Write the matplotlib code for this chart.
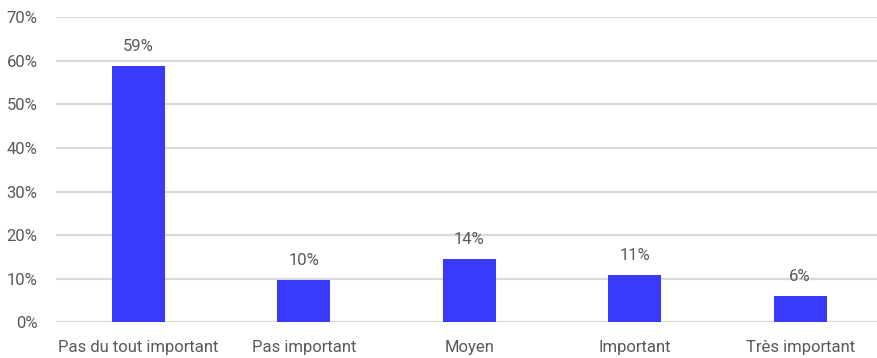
import matplotlib.pyplot as plt
from matplotlib.ticker import PercentFormatter

plt.rcParams['font.family'] = ['Roboto', 'DejaVu Sans']

categories = ["Pas du tout important", "Pas important", "Moyen", "Important", "Très important"]
shares = [0.588, 0.097, 0.145, 0.108, 0.061]

fig = plt.figure(figsize=(8.77, 3.58), dpi=100)
ax = fig.add_axes([0.0636, 0.0997, 0.9364, 0.852])

x = range(len(categories))
bars = ax.bar(x, shares, width=0.32, color="#3a3aff", zorder=3)

for b, v in zip(bars, shares):
    ax.text(b.get_x() + b.get_width() / 2, v + 0.045, f"{v:.0%}",
            ha="center", va="center", fontsize=12, color="#595959")

ax.set_ylim(0, 0.7)
ax.set_xlim(-0.5, 4.465)
ax.set_yticks([i / 10 for i in range(8)])
ax.yaxis.set_major_formatter(PercentFormatter(1.0, decimals=0))
ax.set_xticks(list(x))
ax.set_xticklabels(categories)
ax.grid(axis="y", color="#d9d9d9", linewidth=1.6, zorder=0)
ax.tick_params(length=0, labelsize=12, labelcolor="#595959")
ax.tick_params(axis="y", pad=13)
ax.tick_params(axis="x", pad=13)
for s in ax.spines.values():
    s.set_visible(False)

fig.savefig("out.png", dpi=100)
